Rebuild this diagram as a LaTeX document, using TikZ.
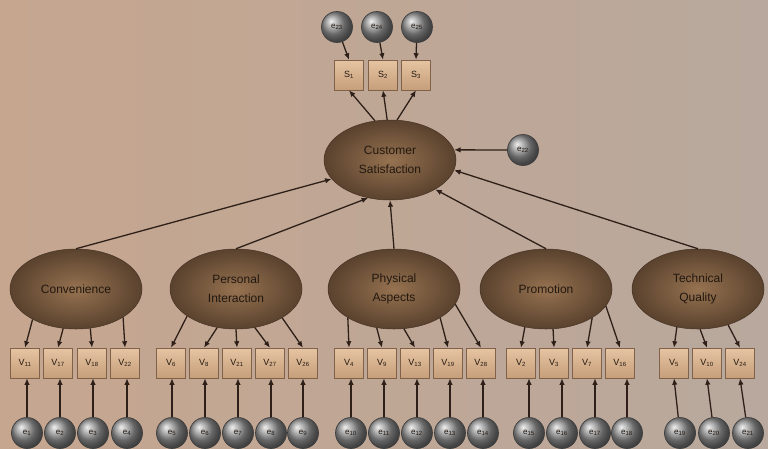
\documentclass[tikz,border=0pt]{standalone}
\usepackage{fontspec}
\setmainfont{Liberation Sans}
\usetikzlibrary{arrows.meta,shapes.geometric}
\definecolor{bgl}{RGB}{198,166,143}
\definecolor{bgr}{RGB}{184,168,157}
\definecolor{latin}{RGB}{150,114,80}
\definecolor{latout}{RGB}{90,66,46}
\definecolor{latdraw}{RGB}{70,50,36}
\definecolor{boxtop}{RGB}{230,196,162}
\definecolor{boxbot}{RGB}{198,158,122}
\definecolor{boxdraw}{RGB}{128,98,74}
\definecolor{lin}{RGB}{46,32,24}
\definecolor{txt}{RGB}{34,24,16}
\begin{document}
\begin{tikzpicture}[x=1pt,y=-1pt,
  latent/.style={ellipse, minimum width=132pt, minimum height=80pt, inner sep=0pt,
    draw=latdraw, line width=0.5pt, shading=radial, inner color=latin, outer color=latout,
    align=center, text=txt, font=\fontsize{12}{19}\selectfont},
  obs/.style={rectangle, minimum width=29pt, minimum height=30pt, inner sep=0pt,
    draw=boxdraw, line width=0.5pt, top color=boxtop, bottom color=boxbot,
    text=txt, font=\fontsize{9}{10}\selectfont},
  err/.style={circle, minimum size=31pt, inner sep=0pt, ball color=gray!85,
    draw=black!75, line width=0.7pt, text=txt, font=\fontsize{8}{9}\selectfont},
  arr/.style={-{Latex[length=6.5pt,width=5.5pt]}, line width=1.3pt, draw=lin},
]
\useasboundingbox (0,0) rectangle (768,448);
\shade[left color=bgl, right color=bgr] (0,0) rectangle (768,448);

% central latent
\node[latent] (cs) at (390,160) {Customer\\Satisfaction};
\node[err] (e22) at (523,150) {e\textsubscript{22}};

% top indicators
\node[obs] (s1) at (349,75) {S\textsubscript{1}};
\node[obs] (s2) at (383,75) {S\textsubscript{2}};
\node[obs] (s3) at (416,75) {S\textsubscript{3}};
\node[err] (e23) at (337,27) {e\textsubscript{23}};
\node[err] (e24) at (377,27) {e\textsubscript{24}};
\node[err] (e25) at (417,27) {e\textsubscript{25}};

% exogenous latents
\node[latent] (conv) at (76,289) {Convenience};
\node[latent] (pi) at (236,289) {Personal\\Interaction};
\node[latent] (pa) at (394,289) {Physical\\Aspects};
\node[latent] (pr) at (546,289) {Promotion};
\node[latent] (tq) at (698,289) {Technical\\Quality};

% observed boxes
\foreach \i/\x/\lab in {1/25/11,2/58/17,3/92/18,4/125/22}
  {\node[obs] (a\i) at (\x,363) {V\textsubscript{\lab}};}
\foreach \i/\x/\lab in {1/171/6,2/204/8,3/237/21,4/270/27,5/303/26}
  {\node[obs] (b\i) at (\x,363) {V\textsubscript{\lab}};}
\foreach \i/\x/\lab in {1/349/4,2/382/9,3/415/13,4/448/19,5/481/28}
  {\node[obs] (c\i) at (\x,363) {V\textsubscript{\lab}};}
\foreach \i/\x/\lab in {1/521/2,2/554/3,3/587/7,4/620/16}
  {\node[obs] (d\i) at (\x,363) {V\textsubscript{\lab}};}
\foreach \i/\x/\lab in {1/674/5,2/707/10,3/740/24}
  {\node[obs] (f\i) at (\x,363) {V\textsubscript{\lab}};}

% error circles bottom
\foreach \i/\x/\lab in {1/27/1,2/60/2,3/93/3,4/127/4}
  {\node[err] (ea\i) at (\x,433) {e\textsubscript{\lab}};}
\foreach \i/\x/\lab in {1/172/5,2/205/6,3/238/7,4/271/8,5/303/9}
  {\node[err] (eb\i) at (\x,433) {e\textsubscript{\lab}};}
\foreach \i/\x/\lab in {1/351/10,2/384/11,3/417/12,4/450/13,5/483/14}
  {\node[err] (ec\i) at (\x,433) {e\textsubscript{\lab}};}
\foreach \i/\x/\lab in {1/529/15,2/562/16,3/595/17,4/627/18}
  {\node[err] (ed\i) at (\x,433) {e\textsubscript{\lab}};}
\foreach \i/\x/\lab in {1/680/19,2/714/20,3/748/21}
  {\node[err] (ef\i) at (\x,433) {e\textsubscript{\lab}};}

% structural arrows
\draw[arr] (conv.north) -- (cs.198);
\draw[arr] (pi.north) -- (cs.240);
\draw[arr] (pa.north) -- (cs.south);
\draw[arr] (pr.north) -- (cs.327);
\draw[arr] (tq.north) -- (cs.351);
\draw[arr] (e22) -- (cs.9);

% top measurement
\draw[arr] (cs.111) -- (s1.south);
\draw[arr] (cs.94) -- (s2.south);
\draw[arr] (cs.80) -- (s3.south);
\draw[arr] (e23) -- (s1.north);
\draw[arr] (e24) -- (s2.north);
\draw[arr] (e25) -- (s3.north);

% latent -> indicators
\foreach \i/\ang in {1/215,2/252,3/290,4/329} {\draw[arr] (conv.\ang) -- (a\i.north);}
\foreach \i/\ang in {1/209,2/244,3/270,4/296,5/328} {\draw[arr] (pi.\ang) -- (b\i.north);}
\foreach \i/\ang in {1/212,2/246,3/284,4/328,5/346} {\draw[arr] (pa.\ang) -- (c\i.north);}
\foreach \i/\ang in {1/241,2/280,3/328,4/344} {\draw[arr] (pr.\ang) -- (d\i.north);}
\foreach \i/\ang in {1/241,2/273,3/310} {\draw[arr] (tq.\ang) -- (f\i.north);}

% errors -> indicators
\foreach \i in {1,...,4} {\draw[arr] (ea\i) -- (ea\i |- a\i.south);}
\foreach \i in {1,...,5} {\draw[arr] (eb\i) -- (eb\i |- b\i.south);}
\foreach \i in {1,...,5} {\draw[arr] (ec\i) -- (ec\i |- c\i.south);}
\foreach \i in {1,...,4} {\draw[arr] (ed\i) -- (ed\i |- d\i.south);}
\foreach \i in {1,...,3} {\draw[arr] (ef\i) -- (f\i.south);}
\end{tikzpicture}
\end{document}
